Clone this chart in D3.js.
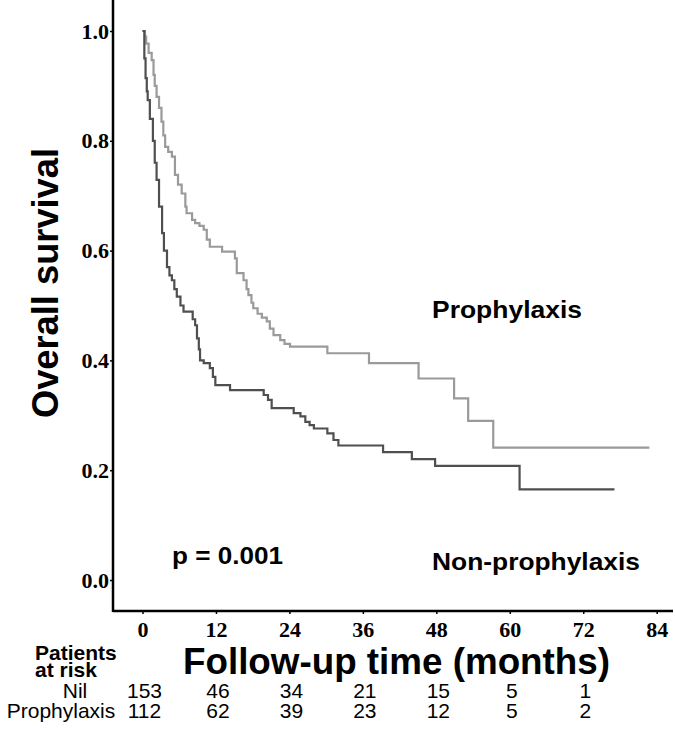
<!DOCTYPE html>
<html lang="en">
<head>
    <meta charset="UTF-8">
    <title>Overall survival</title>
    <style>
        body { margin: 0; background: #fff; }
        svg { display: block; }
        .tick-label { font-family: "Liberation Serif", "Times New Roman", serif; font-weight: bold; font-size: 22px; }
        .title { font-family: "Liberation Sans", Arial, sans-serif; font-weight: bold; }
        .risk { font-family: "Liberation Sans", Arial, sans-serif; font-size: 21px; }
    </style>
</head>
<body>
    <script src="https://cdnjs.cloudflare.com/ajax/libs/d3/7.8.5/d3.min.js"></script>
    <script>
        // Kaplan-Meier steps (months, survival)
        const nilTimes = [0, 0.3, 0.5, 0.7, 0.85, 1.2, 1.7, 2.0, 2.3, 2.7, 3.2, 3.5, 4.0, 4.4, 4.8, 5.2, 5.6, 6.2, 6.7, 8.2, 8.6, 8.9, 9.2, 9.4, 10.0, 11.0, 11.5, 11.9, 14.3, 19.8, 20.5, 21.1, 24.7, 25.8, 26.6, 27.3, 28.0, 30.2, 31.2, 32.0, 39.3, 44.0, 47.8, 61.6, 77.1];
        const nilSurv  = [1.0, 0.95, 0.914, 0.89, 0.874, 0.84, 0.80, 0.76, 0.729, 0.68, 0.632, 0.60, 0.57, 0.555, 0.546, 0.53, 0.516, 0.50, 0.489, 0.475, 0.464, 0.44, 0.42, 0.40, 0.395, 0.386, 0.37, 0.355, 0.346, 0.337, 0.328, 0.313, 0.304, 0.298, 0.288, 0.282, 0.276, 0.267, 0.255, 0.245, 0.233, 0.220, 0.208, 0.165, 0.165];

        const prophTimes = [0, 0.4, 0.6, 1.0, 1.5, 1.8, 2.0, 2.3, 2.7, 3.1, 3.4, 3.7, 4.2, 4.8, 5.3, 5.8, 6.4, 7.0, 7.2, 8.1, 8.6, 9.3, 10.0, 10.5, 11.0, 13.0, 15.1, 15.4, 16.5, 17.0, 17.3, 17.8, 18.1, 18.8, 19.5, 20.3, 20.8, 21.4, 22.5, 23.2, 24.1, 30.2, 37.0, 45.1, 50.9, 53.2, 57.3, 82.8];
        const prophSurv  = [1.0, 0.99, 0.977, 0.96, 0.947, 0.92, 0.90, 0.88, 0.86, 0.835, 0.81, 0.789, 0.78, 0.771, 0.738, 0.72, 0.704, 0.68, 0.668, 0.656, 0.65, 0.645, 0.638, 0.62, 0.607, 0.598, 0.586, 0.559, 0.546, 0.53, 0.519, 0.505, 0.495, 0.485, 0.478, 0.471, 0.458, 0.446, 0.437, 0.43, 0.425, 0.413, 0.395, 0.367, 0.331, 0.29, 0.241, 0.241];

        const xTicks = [0, 12, 24, 36, 48, 60, 72, 84];
        const yTicks = [0, 0.2, 0.4, 0.6, 0.8, 1.0];

        const riskTimes = [0, 12, 24, 36, 48, 60, 72];
        const riskNil   = [153, 46, 34, 21, 15, 5, 1];
        const riskProph = [112, 62, 39, 23, 12, 5, 2];

        const width = 675, height = 730;
        const plotLeft = 113, plotRight = 673, plotTop = 0, plotBottom = 611;

        const svg = d3.select("body").append("svg")
            .attr("width", width)
            .attr("height", height);

        const x = d3.scaleLinear().domain([0, 84]).range([142.5, 656.7]);
        const y = d3.scaleLinear().domain([0, 1]).range([580, 31]);

        // axes
        const xAxis = svg.append("g")
            .attr("transform", `translate(0,${plotBottom})`)
            .call(d3.axisBottom(x).tickValues(xTicks).tickSize(3).tickPadding(4).tickSizeOuter(0));
        xAxis.select(".domain").remove();
        xAxis.selectAll("line").attr("stroke", "#000").attr("stroke-width", 1.5);
        xAxis.selectAll("text").attr("class", "tick-label").attr("fill", "#000")
            .attr("dy", "0.85em");

        const yAxis = svg.append("g")
            .attr("transform", `translate(${plotLeft},0)`)
            .call(d3.axisLeft(y).tickValues(yTicks).tickFormat(d3.format(".1f")).tickSize(3).tickPadding(1).tickSizeOuter(0));
        yAxis.select(".domain").remove();
        yAxis.selectAll("line").attr("stroke", "#000").attr("stroke-width", 1.5);
        yAxis.selectAll("text").attr("class", "tick-label").attr("fill", "#000");

        svg.append("line")
            .attr("x1", plotLeft).attr("x2", plotLeft)
            .attr("y1", plotTop).attr("y2", plotBottom + 1)
            .attr("stroke", "#000").attr("stroke-width", 2.5);
        svg.append("line")
            .attr("x1", plotLeft).attr("x2", plotRight)
            .attr("y1", plotBottom).attr("y2", plotBottom)
            .attr("stroke", "#000").attr("stroke-width", 2.5);

        // survival curves
        const line = d3.line()
            .x(d => x(d[0]))
            .y(d => y(d[1]))
            .curve(d3.curveStepAfter);

        svg.append("path")
            .datum(d3.zip(prophTimes, prophSurv))
            .attr("d", line)
            .attr("fill", "none")
            .attr("stroke", "#9a9a9a")
            .attr("stroke-width", 2.2);

        svg.append("path")
            .datum(d3.zip(nilTimes, nilSurv))
            .attr("d", line)
            .attr("fill", "none")
            .attr("stroke", "#4f4f4f")
            .attr("stroke-width", 2.2);

        // annotations
        svg.append("text").attr("class", "title")
            .attr("x", 432).attr("y", 318)
            .attr("font-size", 24).attr("textLength", 150).attr("lengthAdjust", "spacingAndGlyphs")
            .text("Prophylaxis");
        svg.append("text").attr("class", "title")
            .attr("x", 432).attr("y", 570)
            .attr("font-size", 24).attr("textLength", 208).attr("lengthAdjust", "spacingAndGlyphs")
            .text("Non-prophylaxis");
        svg.append("text").attr("class", "title")
            .attr("x", 172).attr("y", 564)
            .attr("font-size", 24).attr("textLength", 111).attr("lengthAdjust", "spacingAndGlyphs")
            .text("p = 0.001");

        // axis titles
        svg.append("text").attr("class", "title")
            .attr("transform", "translate(58,283) rotate(-90)")
            .attr("text-anchor", "middle")
            .attr("font-size", 37).attr("textLength", 270).attr("lengthAdjust", "spacingAndGlyphs")
            .text("Overall survival");
        svg.append("text").attr("class", "title")
            .attr("x", 183).attr("y", 674)
            .attr("font-size", 37).attr("textLength", 427).attr("lengthAdjust", "spacingAndGlyphs")
            .text("Follow-up time (months)");

        // patients at risk table
        const riskHead = svg.append("text").attr("class", "risk").attr("font-size", 19).attr("font-weight", "bold");
        riskHead.append("tspan").attr("x", 35).attr("y", 660).text("Patients");
        riskHead.append("tspan").attr("x", 35).attr("y", 677).text("at risk");

        const rows = [
            { label: "Nil", values: riskNil, y: 698 },
            { label: "Prophylaxis", values: riskProph, y: 718 }
        ];
        rows.forEach(r => {
            svg.append("text").attr("class", "risk")
                .attr("x", r.label === "Nil" ? 75 : 61).attr("y", r.y)
                .attr("text-anchor", "middle")
                .text(r.label);
            svg.append("g").selectAll("text")
                .data(r.values)
                .join("text")
                .attr("class", "risk")
                .attr("x", (d, i) => x(riskTimes[i]) + 2)
                .attr("y", r.y)
                .attr("text-anchor", "middle")
                .text(d => d);
        });
    </script>
</body>
</html>
